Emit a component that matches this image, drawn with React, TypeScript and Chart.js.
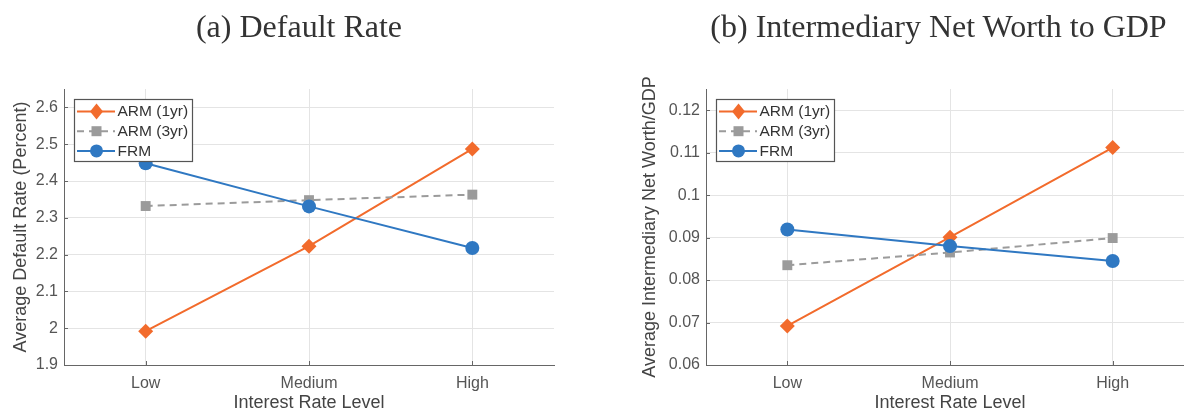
import React, { useEffect, useRef } from 'react';
import { Chart, registerables } from 'chart.js';

Chart.register(...registerables);

// ---- data ----
const categories = ['Low', 'Medium', 'High'];
const seriesLabels = ['ARM (1yr)', 'ARM (3yr)', 'FRM'];

const defaultArm1 = [1.992, 2.223, 2.487];
const defaultArm3 = [2.332, 2.348, 2.363];
const defaultFrm = [2.448, 2.331, 2.218];
const defaultTicks = [1.9, 2.0, 2.1, 2.2, 2.3, 2.4, 2.5, 2.6];

const worthArm1 = [0.0692, 0.0901, 0.1112];
const worthArm3 = [0.0835, 0.0865, 0.0899];
const worthFrm = [0.0919, 0.088, 0.0845];
const worthTicks = [0.06, 0.07, 0.08, 0.09, 0.1, 0.11, 0.12];

const ORANGE = '#F26B2C';
const GRAY = '#9B9B9B';
const BLUE = '#2F78C2';
const SANS = "'Liberation Sans', Arial, Helvetica, sans-serif";

type Marker = 'diamond' | 'square' | 'circle';

function drawMarker(ctx: CanvasRenderingContext2D, kind: Marker, x: number, y: number, color: string) {
  ctx.save();
  ctx.fillStyle = color;
  ctx.beginPath();
  if (kind === 'diamond') {
    ctx.moveTo(x, y - 8);
    ctx.lineTo(x + 6.5, y);
    ctx.lineTo(x, y + 8);
    ctx.lineTo(x - 6.5, y);
    ctx.closePath();
  } else if (kind === 'square') {
    ctx.rect(x - 5, y - 5, 10, 10);
  } else {
    ctx.arc(x, y, 6.5, 0, Math.PI * 2);
  }
  ctx.fill();
  ctx.restore();
}

const markerKinds: Marker[] = ['diamond', 'square', 'circle'];

const boxLegend = {
  id: 'boxLegend',
  afterDraw(chart: any) {
    const { ctx, chartArea } = chart;
    const x = Math.round(chartArea.left + 10);
    const y = Math.round(chartArea.top + 10);
    const w = 118;
    const h = 62;
    ctx.save();
    ctx.fillStyle = '#ffffff';
    ctx.fillRect(x, y, w, h);
    ctx.strokeStyle = '#555555';
    ctx.lineWidth = 1.2;
    ctx.strokeRect(x + 0.5, y + 0.5, w, h);
    chart.data.datasets.forEach((ds: any, i: number) => {
      const cy = y + 12.5 + i * 19.7;
      ctx.strokeStyle = ds.borderColor;
      ctx.lineWidth = 2;
      ctx.setLineDash(ds.borderDash || []);
      ctx.beginPath();
      ctx.moveTo(x + 3, cy);
      ctx.lineTo(x + 41, cy);
      ctx.stroke();
      ctx.setLineDash([]);
      drawMarker(ctx, markerKinds[i], x + 22.5, cy, ds.borderColor);
      ctx.fillStyle = '#333333';
      ctx.font = `15.5px ${SANS}`;
      ctx.textBaseline = 'middle';
      ctx.textAlign = 'left';
      ctx.fillText(ds.label, x + 43.5, cy + 0.5);
    });
    ctx.restore();
  },
};

const innerTicks = {
  id: 'innerTicks',
  beforeDatasetsDraw(chart: any) {
    const { ctx, chartArea, scales } = chart;
    const xs = scales.x;
    const ys = scales.y;
    ctx.save();
    ctx.strokeStyle = '#666666';
    ctx.lineWidth = 1;
    ctx.beginPath();
    xs.ticks.forEach((_t: any, i: number) => {
      const px = Math.round(xs.getPixelForTick(i)) + 0.5;
      ctx.moveTo(px, chartArea.bottom);
      ctx.lineTo(px, chartArea.bottom - 4);
    });
    ys.ticks.forEach((_t: any, i: number) => {
      const py = Math.round(ys.getPixelForTick(i)) + 0.5;
      ctx.moveTo(chartArea.left, py);
      ctx.lineTo(chartArea.left + 4, py);
    });
    ctx.stroke();
    ctx.restore();
  },
};

interface PanelProps {
  width: number;
  height: number;
  yMin: number;
  yMax: number;
  yTicks: number[];
  arm1: number[];
  arm3: number[];
  frm: number[];
  yTitle: string;
  yWidth: number;
  yTitlePad: number;
  padRight: number;
}

function Panel(p: PanelProps) {
  const ref = useRef<HTMLCanvasElement | null>(null);
  useEffect(() => {
    if (!ref.current) return;
    const chart = new Chart(ref.current, {
      type: 'line',
      data: {
        labels: categories,
        datasets: [
          {
            label: seriesLabels[0],
            data: p.arm1,
            borderColor: ORANGE,
            backgroundColor: ORANGE,
            borderWidth: 2,
            pointStyle: 'rectRot',
            pointRadius: 7.5,
            pointBorderWidth: 0,
            order: 2,
          },
          {
            label: seriesLabels[1],
            data: p.arm3,
            borderColor: GRAY,
            backgroundColor: GRAY,
            borderWidth: 2,
            borderDash: [7, 5],
            pointStyle: 'rect',
            pointRadius: 7,
            pointBorderWidth: 0,
            order: 1,
          },
          {
            label: seriesLabels[2],
            data: p.frm,
            borderColor: BLUE,
            backgroundColor: BLUE,
            borderWidth: 2,
            pointStyle: 'circle',
            pointRadius: 7,
            pointBorderWidth: 0,
            order: 0,
          },
        ],
      },
      options: {
        animation: false,
        responsive: false,
        devicePixelRatio: 1,
        layout: { padding: { top: 89, right: p.padRight, left: 0, bottom: 0 } },
        elements: { line: { tension: 0 } },
        plugins: {
          legend: { display: false },
          tooltip: { enabled: false },
          title: { display: false },
        },
        scales: {
          x: {
            type: 'category',
            offset: true,
            grid: { offset: false, color: '#e4e4e4', drawTicks: false, lineWidth: 1 },
            border: { color: '#666666', width: 1 },
            ticks: {
              color: '#555555',
              font: { family: SANS, size: 16 },
              padding: 9,
              maxRotation: 0,
            },
            title: {
              display: true,
              text: 'Interest Rate Level',
              color: '#444444',
              font: { family: SANS, size: 18 },
              padding: { top: 0, bottom: 0 },
            },
            afterFit: (s: any) => {
              s.height = 49;
            },
          },
          y: {
            type: 'linear',
            min: p.yMin,
            max: p.yMax,
            afterBuildTicks: (s: any) => {
              s.ticks = p.yTicks.map((v) => ({ value: v }));
            },
            grid: { color: '#e4e4e4', drawTicks: false, lineWidth: 1 },
            border: { color: '#666666', width: 1 },
            ticks: {
              color: '#555555',
              font: { family: SANS, size: 16 },
              padding: 6,
              callback: (v: any) => String(parseFloat(Number(v).toFixed(3))),
            },
            title: {
              display: true,
              text: p.yTitle,
              color: '#444444',
              font: { family: SANS, size: 18 },
              padding: { top: p.yTitlePad, bottom: 0 },
            },
            afterFit: (s: any) => {
              s.width = p.yWidth;
            },
          },
        },
      },
      plugins: [innerTicks, boxLegend],
    } as any);
    return () => chart.destroy();
  }, []);
  return (
    <canvas
      ref={ref}
      width={p.width}
      height={p.height}
      style={{ width: p.width, height: p.height, display: 'block' }}
    />
  );
}

const titleStyle: React.CSSProperties = {
  position: 'absolute',
  top: 10,
  fontFamily: "'Liberation Serif', 'Times New Roman', serif",
  fontSize: 32,
  lineHeight: '32px',
  color: '#333333',
  textAlign: 'center',
  whiteSpace: 'nowrap',
};

export default function App() {
  return (
    <div
      style={{
        position: 'absolute',
        left: 0,
        top: 0,
        width: 1184,
        height: 414,
        overflow: 'hidden',
        background: '#ffffff',
      }}
    >
      <div style={{ position: 'absolute', left: 0, top: 0 }}>
        <Panel
          width={592}
          height={414}
          yMin={1.9}
          yMax={2.65}
          yTicks={defaultTicks}
          arm1={defaultArm1}
          arm3={defaultArm3}
          frm={defaultFrm}
          yTitle="Average Default Rate (Percent)"
          yWidth={64}
          yTitlePad={10}
          padRight={38}
        />
      </div>
      <div style={{ position: 'absolute', left: 592, top: 0 }}>
        <Panel
          width={620}
          height={414}
          yMin={0.06}
          yMax={0.125}
          yTicks={worthTicks}
          arm1={worthArm1}
          arm3={worthArm3}
          frm={worthFrm}
          yTitle="Average Intermediary Net Worth/GDP"
          yWidth={114}
          yTitlePad={47}
          padRight={18}
        />
      </div>
      <div style={{ ...titleStyle, left: 0, width: 598 }}>(a) Default Rate</div>
      <div style={{ ...titleStyle, left: 700, width: 477 }}>(b) Intermediary Net Worth to GDP</div>
    </div>
  );
}
